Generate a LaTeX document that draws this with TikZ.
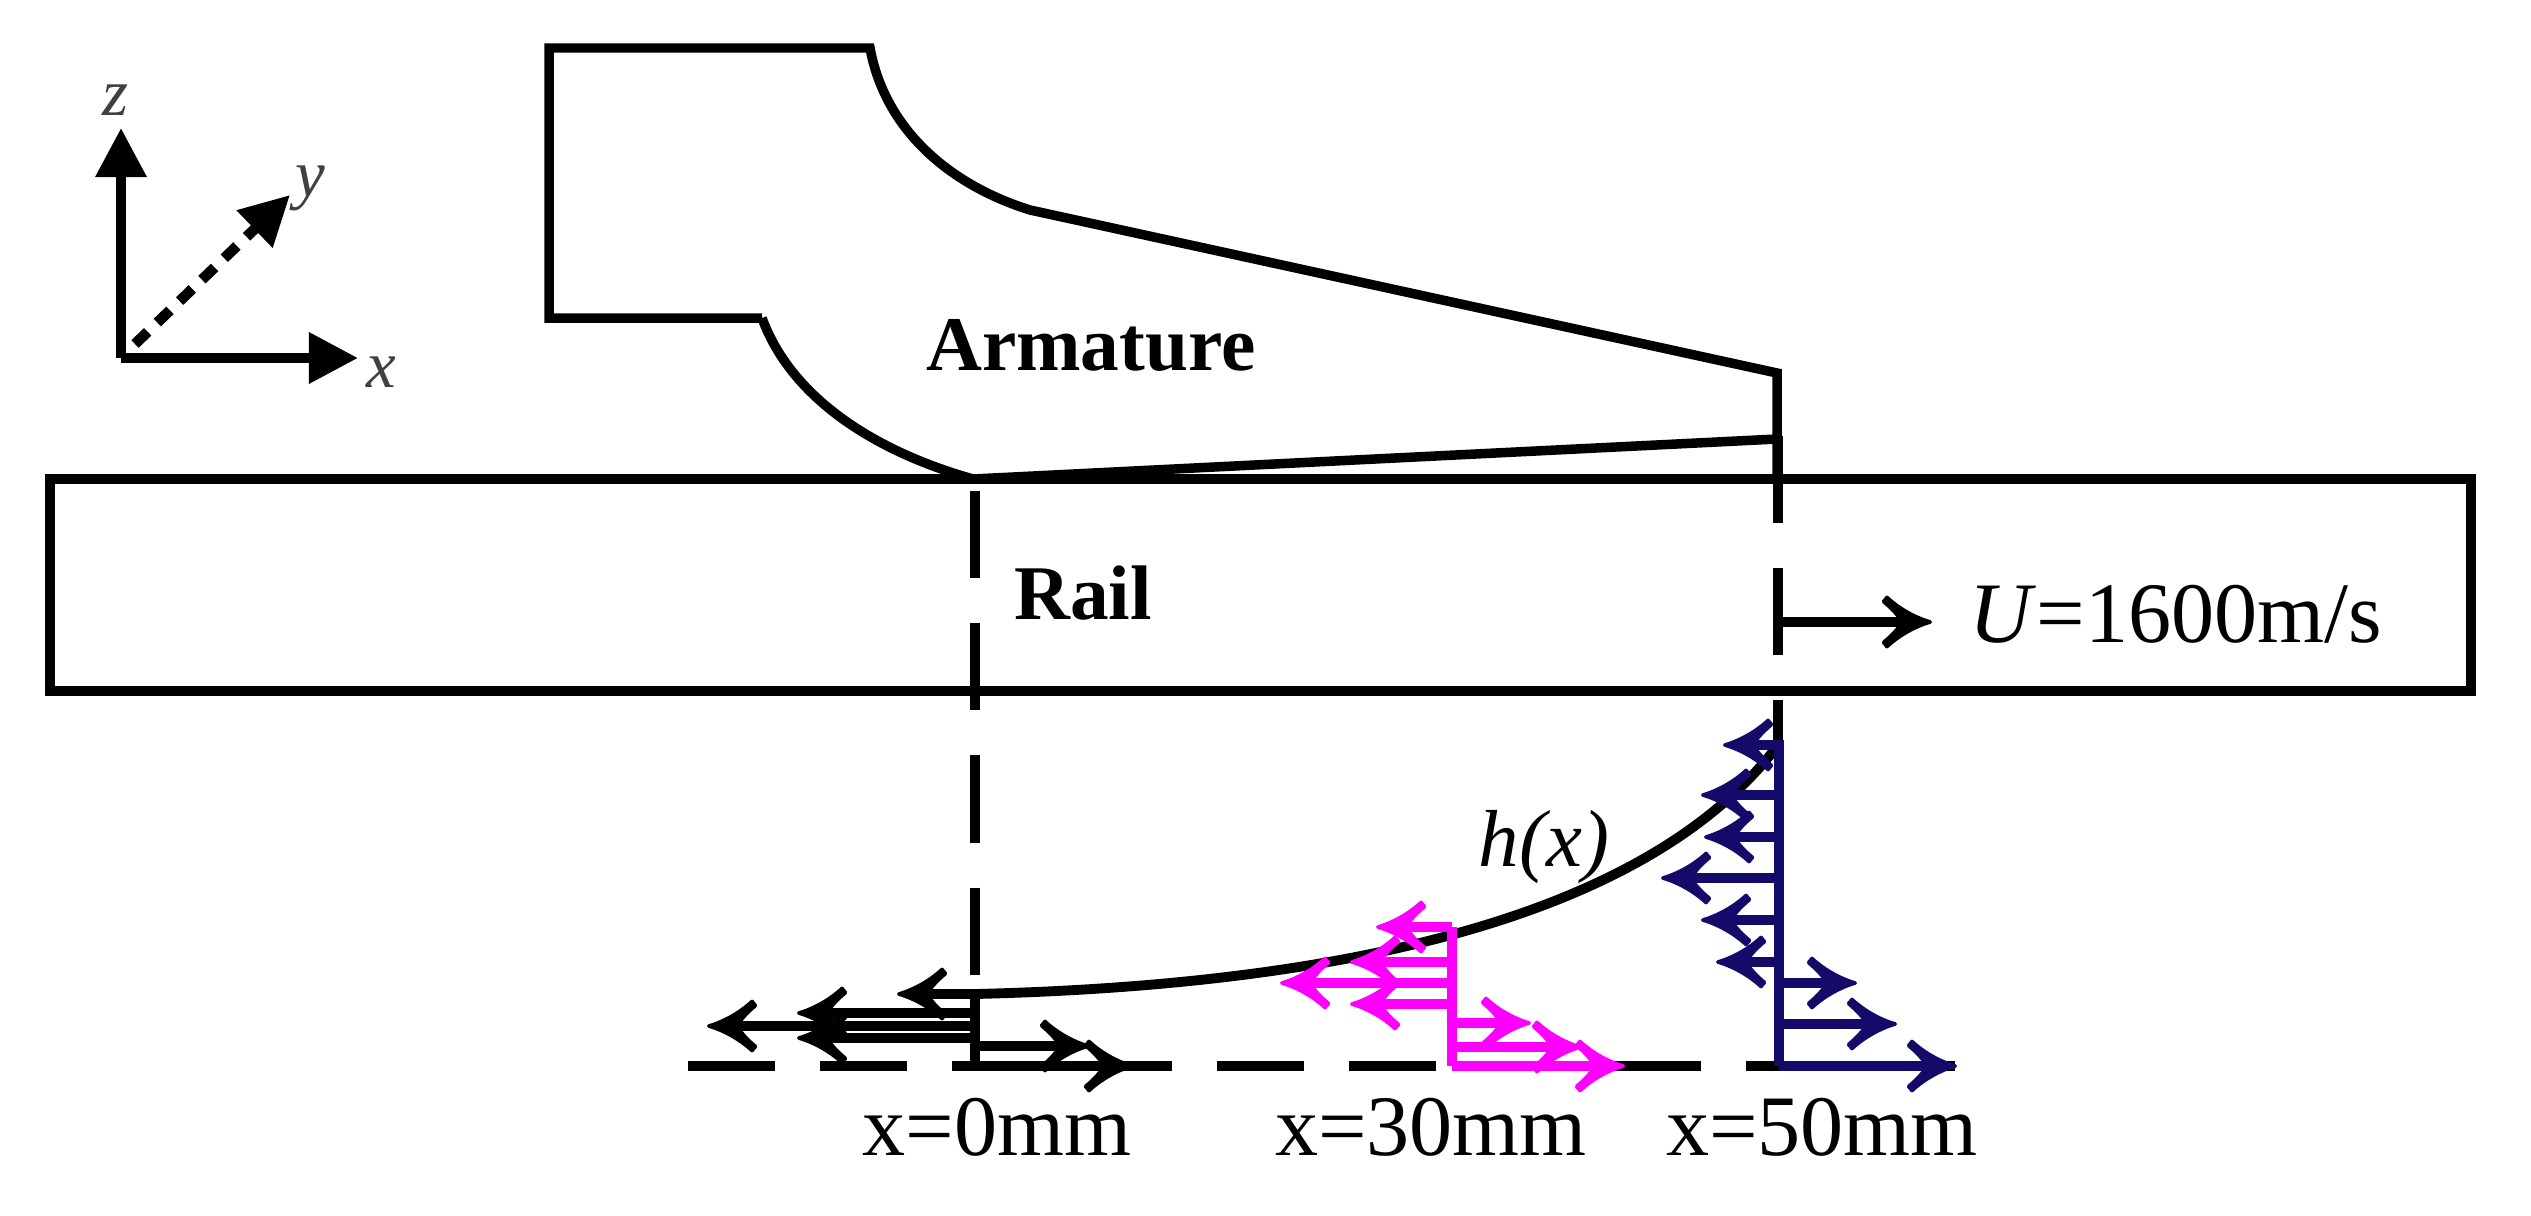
\documentclass[tikz,border=0pt]{standalone}
\usepackage{fontspec}
\setmainfont{Liberation Serif}
\usetikzlibrary{arrows.meta}
\definecolor{navyc}{RGB}{20,10,105}
\definecolor{magc}{RGB}{255,0,255}
\pgfdeclarearrow{
  name=Chev,
  setup code={%
    \pgfarrowssettipend{0pt}%
    \pgfarrowssetlineend{-6pt}%
    \pgfarrowssetvisualbackend{-9pt}%
    \pgfarrowssetbackend{-14pt}%
    \pgfarrowshullpoint{0pt}{0pt}%
    \pgfarrowsupperhullpoint{-14pt}{7.5pt}%
    \pgfarrowssavethe\pgflinewidth
  },
  drawing code={%
    \pgfsetlinewidth{1pt}%
    \pgfsetroundjoin
    \pgfpathmoveto{\pgfpoint{-0.5pt}{0pt}}%
    \pgfpathcurveto{\pgfpoint{-4.5pt}{1.2pt}}{\pgfpoint{-9pt}{3.5pt}}{\pgfpoint{-12.8pt}{7pt}}%
    \pgfpathlineto{\pgfpoint{-13.8pt}{5.8pt}}%
    \pgfpathcurveto{\pgfpoint{-11pt}{3.5pt}}{\pgfpoint{-9.5pt}{1.6pt}}{\pgfpoint{-8.5pt}{0pt}}%
    \pgfpathcurveto{\pgfpoint{-9.5pt}{-1.6pt}}{\pgfpoint{-11pt}{-3.5pt}}{\pgfpoint{-13.8pt}{-5.8pt}}%
    \pgfpathlineto{\pgfpoint{-12.8pt}{-7pt}}%
    \pgfpathcurveto{\pgfpoint{-9pt}{-3.5pt}}{\pgfpoint{-4.5pt}{-1.2pt}}{\pgfpoint{-0.5pt}{0pt}}%
    \pgfpathclose
    \pgfusepathqfillstroke
  }
}
\tikzset{
  x=0.01cm,y=-0.01cm,
  outline/.style={line width=2.7pt,line join=miter},
  dashline/.style={line width=2.8pt,dash pattern=on 24.8pt off 12.8pt},
  flow/.style={line width=2.8pt,-{Chev}},
  axisarrow/.style={line width=2.8pt,-{Triangle[length=14pt,width=14pt]}},
  lab/.style={font=\fontsize{24.5}{24.5}\selectfont,inner sep=0pt},
  boldlab/.style={font=\fontsize{22}{22}\selectfont\bfseries,inner sep=0pt},
  axlab/.style={font=\fontsize{19}{19}\selectfont\itshape,text=black!75,inner sep=0pt}
}
\begin{document}
\begin{tikzpicture}
\useasboundingbox (0,0) rectangle (2531,1215);
% rail
\draw[outline] (50,479) rectangle (2471,691);
% armature
\draw[outline] (762,318) -- (549,318) -- (549,48) -- (870,48) .. controls (885,130) and (950,185) .. (1030,210)
  -- (1777,373) -- (1777,479);
\draw[outline] (1777,439) -- (973,479)
  .. controls (870,450) and (790,395) .. (762,318);
% section lines
\coordinate (a0) at (975,491); \coordinate (a1) at (975,978);
\coordinate (b0) at (1778,436); \coordinate (b1) at (1778,745);
\draw[dashline] (a0) -- (a1);
\draw[dashline] (b0) -- (b1);
\coordinate (d0) at (688,1066); \coordinate (d1) at (1955,1066);
\draw[dashline] (d0) -- (d1);
% curve
\coordinate (c0) at (975,994); \coordinate (c1) at (1778,745);
\draw[line width=2.8pt] (c0) .. controls (1350,985) and (1650,915) .. (c1);
% black profile
\draw[line width=2.8pt] (975,994) -- (975,1066);
\foreach \yy/\tip in {994/897,1013/797,1026/707,1038/797,1046/1090,1066/1134}
  \draw[flow,black] (975,\yy) -- (\tip,\yy);
% magenta
\draw[line width=2.8pt,magc] (1452,927) -- (1452,1066);
\foreach \yy/\tip in {927/1376,962/1350,983/1280,1004/1350,1023/1531,1047/1582,1066/1625}
  \draw[flow,magc] (1452,\yy) -- (\tip,\yy);
% navy
\draw[line width=2.8pt,navyc] (1779,740) -- (1779,1066);
\foreach \yy/\tip in {745/1723,795/1701,837/1704,878/1661,920/1701,962/1716,983/1857,1024/1897,1066/1957}
  \draw[flow,navyc] (1779,\yy) -- (\tip,\yy);
% U arrow
\coordinate (u0) at (1778,622); \coordinate (u1) at (1932,622);
\draw[flow] (u0) -- (u1);
\node[lab,anchor=base west] (ulab) at (1969,642) {\textit{U}=1600m/s};
% axes
\coordinate (o) at (121,358);
\coordinate (ox) at (358,358); \coordinate (oz) at (121,128); \coordinate (oy) at (290,195);
\coordinate (oy0) at (135,344);
\draw[axisarrow] (o) -- (ox);
\draw[axisarrow] (o) -- (oz);
\draw[line width=3pt,dash pattern=on 5pt off 3.8pt,-{Triangle[length=14pt,width=14pt]}] (oy0) -- (oy);
\node[axlab] (lz) at (115,100) {z};
\node[axlab] (ly) at (310,188) {y};
\node[axlab] (lx) at (381,372) {x};
% labels
\node[boldlab] (arm) at (1091,345) {Armature};
\node[boldlab] (rail) at (1083,593) {Rail};
\node[font=\fontsize{23}{23}\selectfont\itshape,inner sep=0pt] (hx) at (1544,847) {h(x)};
\node[lab,anchor=base] (t0) at (997,1155) {x=0mm};
\node[lab,anchor=base] (t1) at (1431,1155) {x=30mm};
\node[lab,anchor=base] (t2) at (1822,1155) {x=50mm};
\end{tikzpicture}
\end{document}
